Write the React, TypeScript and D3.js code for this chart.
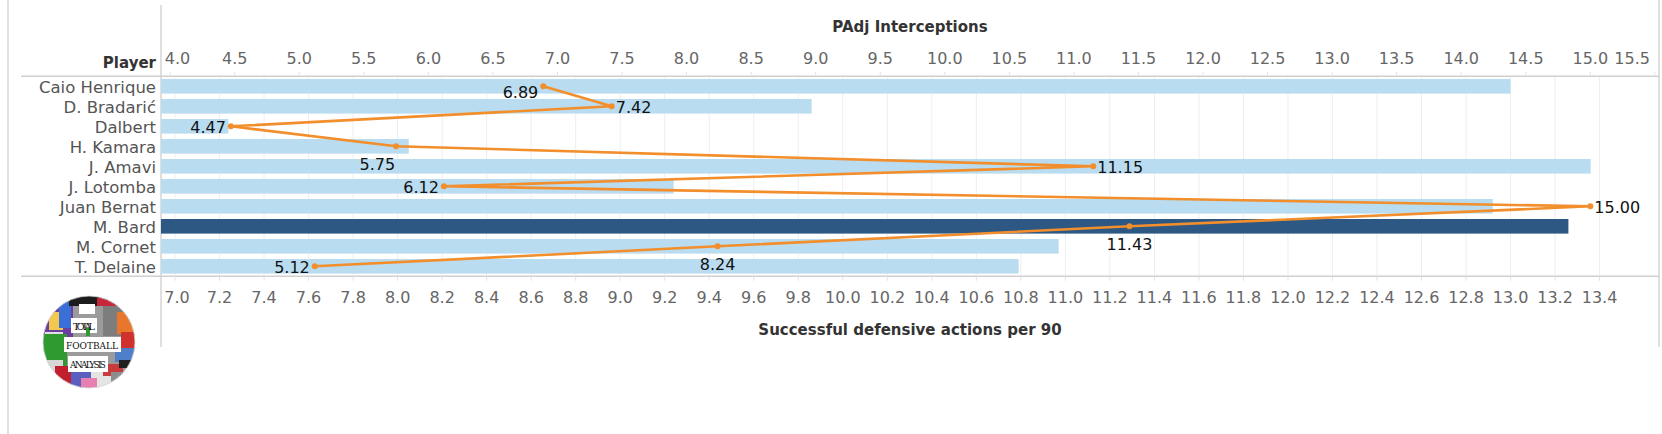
import React from "react";
import * as d3 from "d3";

// ---------- data ----------
const players = [
  "Caio Henrique",
  "D. Bradarić",
  "Dalbert",
  "H. Kamara",
  "J. Amavi",
  "J. Lotomba",
  "Juan Bernat",
  "M. Bard",
  "M. Cornet",
  "T. Delaine",
];
const defensiveActions = [13.0, 9.86, 7.24, 8.05, 13.36, 9.24, 12.92, 13.26, 10.97, 10.79];
const interceptions = [6.89, 7.42, 4.47, 5.75, 11.15, 6.12, 15.0, 11.43, 8.24, 5.12];
const highlightedPlayer = "M. Bard";
const labelPlacement = ["lowerleft", "right", "left", "belowleft", "right", "left", "right", "below", "below", "left"];

const topTicks = [4.0, 4.5, 5.0, 5.5, 6.0, 6.5, 7.0, 7.5, 8.0, 8.5, 9.0, 9.5, 10.0, 10.5, 11.0, 11.5, 12.0, 12.5, 13.0, 13.5, 14.0, 14.5, 15.0, 15.5];
const bottomTicks = [7.0, 7.2, 7.4, 7.6, 7.8, 8.0, 8.2, 8.4, 8.6, 8.8, 9.0, 9.2, 9.4, 9.6, 9.8, 10.0, 10.2, 10.4, 10.6, 10.8, 11.0, 11.2, 11.4, 11.6, 11.8, 12.0, 12.2, 12.4, 12.6, 12.8, 13.0, 13.2, 13.4];
const topTitle = "PAdj Interceptions";
const bottomTitle = "Successful defensive actions per 90";
const rowTitle = "Player";

// ---------- layout ----------
const W = 1662;
const H = 434;
const plotL = 161;
const plotR = 1659;
const headerY = 76.3;
const axisY = 276.3;
const FONT = "'DejaVu Sans', Verdana, sans-serif";

const COL_BAR = "#b9dcf0";
const COL_BAR_HI = "#2c5883";
const COL_LINE = "#f28e2b";
const COL_TICK = "#666666";
const COL_RULE = "#d0d0d0";
const COL_GRID = "#eeeeee";

export default function App() {
  const xBottom = d3.scaleLinear().domain([6.937, 13.667]).range([plotL, plotR]);
  const xTop = d3.scaleLinear().domain([3.929, 15.532]).range([plotL, plotR]);
  const y = d3
    .scaleBand<string>()
    .domain(players)
    .range([headerY, axisY])
    .paddingInner(0.27)
    .paddingOuter(0.135);
  const bw = y.bandwidth();
  const cy = (p: string) => (y(p) as number) + bw / 2;

  const pts = players.map((p, i) => [xTop(interceptions[i]), cy(p)] as [number, number]);
  const linePath = d3.line()(pts) || "";

  const fmt = d3.format(".1f");
  const fmt2 = d3.format(".2f");

  const clampLabel = (x: number, w: number) => {
    let c = x;
    if (c - w / 2 < plotL + 3) c = plotL + 3 + w / 2;
    if (c + w / 2 > plotR - 9) c = plotR - 9 - w / 2;
    return c;
  };
  const approxW = (s: string) => s.length * 8.7;

  const labelPos = (pl: string, px: number, py: number) => {
    switch (pl) {
      case "right":
        return { x: px + 4, y: py + 6.8, a: "start" };
      case "left":
        return { x: px - 5, y: py + 6.3, a: "end" };
      case "lowerleft":
        return { x: px - 5, y: py + 11.3, a: "end" };
      case "belowleft":
        return { x: px - 1, y: py + 23.8, a: "end" };
      default:
        return { x: px, y: py + 23.3, a: "middle" };
    }
  };

  // logo
  const lx = 89;
  const ly = 342;
  const lr = 46;
  const collage: [number, number, number, number, string][] = [
    [-46, -46, 92, 92, "#9b9b9b"],
    [-46, -46, 30, 50, "#6b3fa0"],
    [-40, -30, 14, 18, "#f2c94c"],
    [-30, -40, 12, 26, "#3a6fd8"],
    [-44, -10, 18, 12, "#e0e0e0"],
    [-20, -46, 50, 10, "#1c1c1c"],
    [-10, -38, 16, 10, "#ffffff"],
    [8, -44, 22, 8, "#c6283a"],
    [14, -36, 28, 30, "#7d7d7d"],
    [28, -30, 18, 22, "#e8762d"],
    [32, -10, 14, 20, "#d0312d"],
    [26, 6, 20, 14, "#4f7fc9"],
    [-46, -8, 24, 32, "#2f9a2f"],
    [-46, 18, 20, 20, "#d7d7d7"],
    [-34, 24, 16, 22, "#c21f2e"],
    [-18, 30, 20, 16, "#5a5fbf"],
    [2, 28, 20, 18, "#e4e4e4"],
    [14, 22, 20, 12, "#c93a3a"],
    [22, 30, 24, 16, "#8e8e8e"],
    [-8, 36, 16, 10, "#e77fb0"],
    [30, 18, 16, 8, "#1f1f1f"],
  ];

  return (
    <svg
      width={W}
      height={H}
      viewBox={`0 0 ${W} ${H}`}
      style={{ position: "fixed", left: 0, top: 0, background: "#ffffff" }}
      fontFamily={FONT}
    >
      <defs>
        <clipPath id="logoClip">
          <circle cx={lx} cy={ly} r={lr} />
        </clipPath>
      </defs>

      {/* frame lines */}
      <line x1={8} x2={8} y1={0} y2={H} stroke="#d8d8d8" strokeWidth={1.5} />
      <line x1={plotL} x2={plotL} y1={5} y2={347} stroke="#d4d4d4" strokeWidth={1.5} />
      <line x1={plotR} x2={plotR} y1={0} y2={347} stroke="#d4d4d4" strokeWidth={1.5} />

      {/* body gridlines */}
      {bottomTicks.map((t) => (
        <line key={"g" + t} x1={xBottom(t)} x2={xBottom(t)} y1={headerY} y2={axisY} stroke={COL_GRID} strokeWidth={1} />
      ))}

      {/* bars */}
      {players.map((p, i) => (
        <rect
          key={"b" + p}
          x={plotL}
          y={y(p) as number}
          width={xBottom(defensiveActions[i]) - plotL}
          height={bw}
          fill={p === highlightedPlayer ? COL_BAR_HI : COL_BAR}
        />
      ))}

      {/* header & axis rules */}
      <line x1={21} x2={plotR} y1={headerY} y2={headerY} stroke={COL_RULE} strokeWidth={1.5} />
      <line x1={21} x2={plotR} y1={axisY} y2={axisY} stroke={COL_RULE} strokeWidth={1.5} />

      {/* top axis */}
      {topTicks.map((t) => (
        <g key={"tt" + t}>
          <line x1={xTop(t)} x2={xTop(t)} y1={headerY - 4.5} y2={headerY} stroke="#e2e2e2" strokeWidth={1} />
          <text
            x={clampLabel(xTop(t), approxW(fmt(t)) + 1)}
            y={64}
            textAnchor="middle"
            fontSize={16}
            fill={COL_TICK}
          >
            {fmt(t)}
          </text>
        </g>
      ))}
      <text x={(plotL + plotR) / 2} y={31.5} textAnchor="middle" fontSize={15} fontWeight="bold" fill="#333333">
        {topTitle}
      </text>

      {/* bottom axis */}
      {bottomTicks.map((t) => (
        <g key={"bt" + t}>
          <line x1={xBottom(t)} x2={xBottom(t)} y1={axisY} y2={axisY + 4.5} stroke="#e2e2e2" strokeWidth={1} />
          <text
            x={clampLabel(xBottom(t), approxW(fmt(t)))}
            y={302.5}
            textAnchor="middle"
            fontSize={16}
            fill={COL_TICK}
          >
            {fmt(t)}
          </text>
        </g>
      ))}
      <text x={(plotL + plotR) / 2} y={335} textAnchor="middle" fontSize={15} fontWeight="bold" fill="#333333">
        {bottomTitle}
      </text>

      {/* row header & labels */}
      <text x={156} y={68} textAnchor="end" fontSize={15} fontWeight="bold" fill="#333333">
        {rowTitle}
      </text>
      {players.map((p) => (
        <text key={"rl" + p} x={156} y={cy(p) + 6.3} textAnchor="end" fontSize={16.5} fill="#555555">
          {p}
        </text>
      ))}

      {/* line */}
      <path d={linePath} fill="none" stroke={COL_LINE} strokeWidth={2.6} strokeLinejoin="miter" />
      {pts.map(([px, py], i) => (
        <circle key={"pt" + i} cx={px} cy={py} r={3} fill={COL_LINE} />
      ))}
      {pts.map(([px, py], i) => {
        const lp = labelPos(labelPlacement[i], px, py);
        return (
          <text key={"dl" + i} x={lp.x} y={lp.y} textAnchor={lp.a as any} fontSize={16} fill="#111111">
            {fmt2(interceptions[i])}
          </text>
        );
      })}

      {/* logo */}
      <g clipPath="url(#logoClip)">
        {collage.map(([dx, dy, w, h, c], i) => (
          <rect key={"c" + i} x={lx + dx} y={ly + dy} width={w} height={h} fill={c} />
        ))}
        <rect x={lx - 18} y={ly - 24} width={26} height={15} fill="#ffffff" />
        <rect x={lx - 3} y={ly - 14} width={4} height={8} fill="#2f9a2f" />
        <rect x={lx - 25} y={ly - 5} width={57} height={15} fill="#ffffff" />
        <rect x={lx - 21} y={ly + 14} width={40} height={16} fill="#ffffff" />
        <text x={lx - 16} y={ly - 12} fontSize={10} fontFamily="'DejaVu Serif', serif" fill="#111" textLength={22}>
          TOTAL
        </text>
        <text x={lx - 23} y={ly + 7} fontSize={9} fontFamily="'DejaVu Serif', serif" fill="#111" textLength={52}>
          FOOTBALL
        </text>
        <text x={lx - 19} y={ly + 26} fontSize={9} fontFamily="'DejaVu Serif', serif" fill="#111" textLength={36}>
          ANALYSIS
        </text>
      </g>
      <circle cx={lx} cy={ly} r={lr} fill="none" stroke="#dddddd" strokeWidth={0.8} />
    </svg>
  );
}
